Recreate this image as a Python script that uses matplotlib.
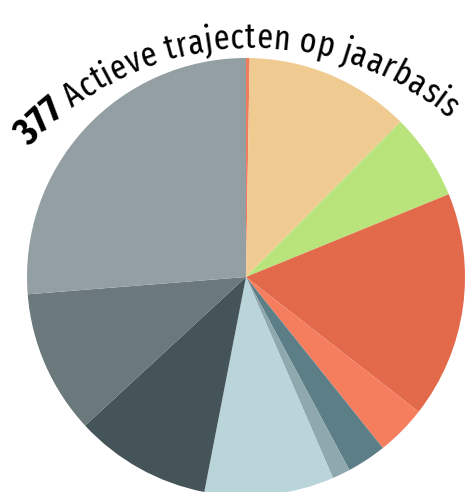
import numpy as np
import matplotlib
matplotlib.use("Agg")
import matplotlib.pyplot as plt
from matplotlib import font_manager
from matplotlib.font_manager import FontProperties
from matplotlib.textpath import text_to_path

# aantal trajecten per categorie (met de klok mee vanaf 12 uur)
counts = [1, 46, 24, 63, 14, 11, 5, 36, 38, 40, 99]
colors = ["#F07C5E", "#EFCB91", "#B9E47B", "#E3694B", "#F57E5E", "#5C7F87",
          "#8FA8AD", "#BAD5DA", "#455459", "#6B787C", "#939FA3"]
title_num = "377"
title_txt = "Actieve trajecten op jaarbasis"

W, H = 465, 492
fig = plt.figure(figsize=(W / 100, H / 100), dpi=100)
ax = fig.add_axes([0, 0, 1, 1])

ax.pie(counts, colors=colors, startangle=90, counterclock=False,
       radius=219, center=(246, H - 277), frame=True,
       wedgeprops=dict(linewidth=0))
ax.set_xlim(0, W)
ax.set_ylim(0, H)
ax.set_aspect("equal")
ax.axis("off")


# zo smal mogelijk lettertype zoeken, anders DejaVu Sans
def pick(bold):
    best = None
    for f in font_manager.fontManager.ttflist:
        nm = f.name + " " + f.fname
        st = f.stretch
        if st == "extra-condensed" or "ExtraCondensed" in nm or "ultra-condensed" == st:
            bonus = 200
        elif st == "condensed" or "Condensed" in nm or "Narrow" in nm:
            bonus = 100
        elif st == "semi-condensed" or "SemiCondensed" in nm:
            bonus = 50
        else:
            continue
        if f.style != "normal":
            continue
        wt = f.weight if isinstance(f.weight, int) else 400
        score = abs(wt - (700 if bold else 400)) - bonus
        if best is None or score < best[0]:
            best = (score, f.fname)
    if best is None:
        return FontProperties(family="DejaVu Sans",
                              weight="bold" if bold else "normal")
    return FontProperties(fname=best[1])


fp_n = pick(False)
fp_b = pick(True)

arc_c = (253, H - 352)
arc_r = 304
a0, a1 = -47.5, 40.0
size_n, size_b = 25.0, 28.0


def tw(s, fp, size):
    fp = fp.copy()
    fp.set_size(size)
    return text_to_path.get_text_width_height_descent(s, fp, ismath=False)[0] * 100 / 72


def layout(sn, sb):
    gap = tw("a a", fp_n, sn) - tw("aa", fp_n, sn)
    out = []
    off = 0
    for s, fp, size in [(title_num, fp_b, sb), (title_txt, fp_n, sn)]:
        for i, ch in enumerate(s):
            if ch == " ":
                continue
            c = tw(s[:i + 1], fp, size) - tw(ch, fp, size) / 2
            out.append((ch, fp, size, off + c))
        off += tw(s, fp, size) + gap
    return out, off - gap


L = arc_r * np.radians(a1 - a0)
chars, total = layout(size_n, size_b)
if total > L:
    k = L / total
    size_n, size_b = size_n * k, size_b * k
    chars, total = layout(size_n, size_b)

for ch, fp, size, pos in chars:
    th = np.radians(a0) + np.radians(a1 - a0) * pos / total
    x = arc_c[0] + arc_r * np.sin(th)
    y = arc_c[1] + arc_r * np.cos(th)
    ax.text(x, y, ch, fontproperties=fp, fontsize=size,
            rotation=-np.degrees(th), rotation_mode="anchor",
            ha="center", va="baseline", color="black")

fig.savefig("out.png", dpi=100)
